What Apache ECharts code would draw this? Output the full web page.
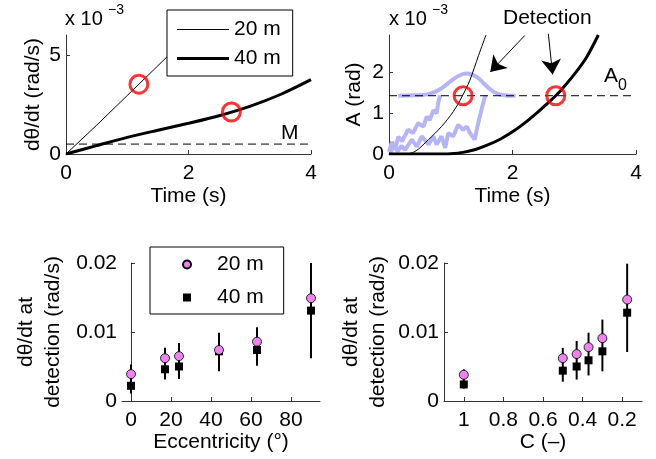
<!DOCTYPE html>
<html>
<head>
<meta charset="utf-8">
<script src="https://cdn.jsdelivr.net/npm/echarts@6/dist/echarts.min.js"></script>
<style>
html,body{margin:0;padding:0;background:#fff;}
#chart{width:656px;height:459px;}
</style>
</head>
<body>
<div id="chart"></div>
<script>
// ---- top left: dθ/dt vs time (x 10^-3 rad/s) ----
var rateTime20 = [0, 0.5, 1, 1.5, 2, 2.03];
var rate20 = [0, 1.45, 2.95, 4.45, 5.95, 6.0];
var rateTime40 = [0, 0.5, 1, 1.5, 2, 2.5, 3, 3.5, 4];
var rate40 = [0, 0.42, 0.84, 1.2, 1.55, 1.93, 2.4, 3.0, 3.75];
var rateM = 0.5;
var rateDetT = [1.19, 2.7];
var rateDetV = [3.52, 2.12];

// ---- top right: amplitude vs time (x 10^-3 rad) ----
var ampTime20 = [0, 0.25, 0.42, 0.64, 0.85, 1.04, 1.18, 1.31, 1.45, 1.57];
var amp20 = [0, 0, 0.06, 0.35, 0.67, 1.03, 1.39, 1.8, 2.4, 2.9];
var ampTime40 = [0, 0.9, 1.0, 1.2, 1.4, 1.6, 1.8, 2.0, 2.2, 2.4, 2.6, 2.7, 2.8, 3.0, 3.2, 3.39];
var amp40 = [0, 0, 0.005, 0.04, 0.11, 0.22, 0.36, 0.54, 0.76, 1.01, 1.28, 1.42, 1.58, 1.94, 2.36, 2.9];
var ampA0 = 1.42;
var ampDetT = [1.2, 2.7];
// light blue: detection probability bump and two noisy traces
var bumpTime = [0.15, 0.4, 0.64, 0.85, 1.02, 1.15, 1.26, 1.42, 1.56, 1.69, 1.83, 2.05];
var bumpAmp = [1.42, 1.43, 1.46, 1.6, 1.8, 1.92, 1.96, 1.88, 1.68, 1.52, 1.44, 1.42];
var noiseTimeA = [0, 0.05, 0.1, 0.15, 0.21, 0.31, 0.39, 0.47, 0.56, 0.61, 0.66, 0.72, 0.77, 0.8, 0.83];
var noiseAmpA = [0.05, 0.3, 0.12, 0.42, 0.31, 0.59, 0.51, 0.75, 0.67, 0.91, 0.83, 1.07, 0.99, 1.27, 1.43];
var noiseTimeB = [0.02, 0.08, 0.14, 0.2, 0.26, 0.37, 0.45, 0.53, 0.64, 0.72, 0.77, 0.85, 0.91, 0.96, 1.04, 1.12, 1.2, 1.26, 1.31, 1.39, 1.42, 1.47, 1.51, 1.56];
var noiseAmpB = [0.02, 0.22, 0.06, 0.2, 0.1, 0.35, 0.18, 0.43, 0.23, 0.43, 0.23, 0.43, 0.15, 0.51, 0.43, 0.71, 0.59, 0.67, 0.51, 0.35, 0.59, 0.91, 1.15, 1.43];
var arrowFrom = [[2.2, 2.89], [2.58, 2.93]];
var arrowTo = [[1.64, 2.0], [2.65, 1.94]];

// ---- bottom left: rate at detection vs eccentricity ----
var eccentricity = [0, 17, 24, 44, 63, 90];
var eccDet20 = [0.0039, 0.0062, 0.0065, 0.0074, 0.0086, 0.0149];
var eccDet40 = [0.0022, 0.0046, 0.0050, 0.0072, 0.0074, 0.0131];
var eccErrLow = [0.0011, 0.0031, 0.0032, 0.0043, 0.0051, 0.0062];
var eccErrHigh = [0.0053, 0.0077, 0.0084, 0.0099, 0.0107, 0.0200];

// ---- bottom right: rate at detection vs contrast C ----
var contrast = [1, 0.5, 0.43, 0.37, 0.3, 0.175];
var cDet20 = [0.0038, 0.0062, 0.0068, 0.0078, 0.0091, 0.0147];
var cDet40 = [0.0024, 0.0044, 0.0050, 0.0059, 0.0072, 0.0128];
var cErrLow = [0.0018, 0.0028, 0.0031, 0.0037, 0.0043, 0.0071];
var cErrHigh = [0.0046, 0.0077, 0.0087, 0.0099, 0.0118, 0.0199];

var FONT = '"Liberation Sans", Arial, Helvetica, sans-serif';
var FS = 21;
var AXIS_COLOR = '#333';

function pairs(xs, ys) {
    var out = [];
    for (var i = 0; i < xs.length; i++) out.push([xs[i], ys[i]]);
    return out;
}

function xAxisCfg(idx, name, min, max, ticks, inverse) {
    return {
        type: 'value', gridIndex: idx, min: min, max: max, inverse: !!inverse,
        name: name, nameLocation: 'middle', nameGap: idx < 2 ? 32 : 27,
        nameTextStyle: {fontSize: FS, color: '#000', fontFamily: FONT},
        axisLine: {lineStyle: {color: AXIS_COLOR, width: 1}},
        axisTick: {inside: true, length: 4, customValues: ticks, lineStyle: {color: AXIS_COLOR}},
        axisLabel: {customValues: ticks, fontSize: FS, color: '#000', fontFamily: FONT, margin: 9},
        splitLine: {show: false}
    };
}

function yAxisCfg(idx, name, min, max, ticks, gap, lineHeight) {
    return {
        type: 'value', gridIndex: idx, min: min, max: max,
        name: name, nameLocation: 'middle', nameGap: gap,
        nameTextStyle: {fontSize: FS, color: '#000', fontFamily: FONT, lineHeight: lineHeight || FS},
        axisLine: {show: true, lineStyle: {color: AXIS_COLOR, width: 1}},
        axisTick: {show: true, inside: true, length: 4, customValues: ticks, lineStyle: {color: AXIS_COLOR}},
        axisLabel: {customValues: ticks, fontSize: FS, color: '#000', fontFamily: FONT, margin: 5},
        splitLine: {show: false}
    };
}

function curve(name, idx, xs, ys, width, color, smooth) {
    return {
        name: name, type: 'line', xAxisIndex: idx, yAxisIndex: idx,
        data: pairs(xs, ys), symbol: 'none', smooth: smooth || false,
        lineStyle: {color: color, width: width}, itemStyle: {color: color},
        silent: true, z: 3
    };
}

function dashed(idx, y) {
    return {
        type: 'line', xAxisIndex: idx, yAxisIndex: idx, data: [[0, y], [4, y]],
        symbol: 'none', silent: true, z: 3,
        lineStyle: {color: '#000', width: 1, type: [8, 5]}
    };
}

function detectRings(idx, xs, ys) {
    return {
        type: 'scatter', xAxisIndex: idx, yAxisIndex: idx, data: pairs(xs, ys),
        symbol: 'circle', symbolSize: 18, silent: true, z: 6,
        itemStyle: {color: 'rgba(0,0,0,0)', borderColor: '#ff0000', borderWidth: 3}
    };
}

function errorBars(idx, xs, lo, hi) {
    var data = [];
    for (var i = 0; i < xs.length; i++) data.push([xs[i], lo[i], hi[i]]);
    return {
        type: 'custom', xAxisIndex: idx, yAxisIndex: idx, data: data, silent: true, z: 2,
        renderItem: function (params, api) {
            var a = api.coord([api.value(0), api.value(1)]);
            var b = api.coord([api.value(0), api.value(2)]);
            return {type: 'line', shape: {x1: a[0], y1: a[1], x2: b[0], y2: b[1]},
                    style: {stroke: '#000', lineWidth: 2}};
        }
    };
}

function points(name, idx, xs, ys, symbol, size, color) {
    return {
        name: name, type: 'scatter', xAxisIndex: idx, yAxisIndex: idx, data: pairs(xs, ys),
        symbol: symbol, symbolSize: size, silent: true, z: symbol === 'circle' ? 5 : 4,
        itemStyle: {color: color, borderColor: '#000', borderWidth: symbol === 'circle' ? 0.8 : 0, opacity: 1}
    };
}

var myChart = echarts.init(document.getElementById('chart'));

var option = {
    animation: false,
    backgroundColor: '#fff',
    textStyle: {fontFamily: FONT},
    grid: [
        {left: 66, top: 35, width: 245, height: 119},
        {left: 389, top: 35, width: 247, height: 119},
        {left: 122, top: 263, width: 198, height: 138},
        {left: 444, top: 263, width: 198, height: 138}
    ],
    xAxis: [
        xAxisCfg(0, 'Time (s)', 0, 4, [0, 2, 4]),
        xAxisCfg(1, 'Time (s)', 0, 4, [0, 2, 4]),
        xAxisCfg(2, 'Eccentricity (°)', -4.5, 94.5, [0, 20, 40, 60, 80]),
        xAxisCfg(3, 'C (\u2013)', 0.1, 1.1, [0.2, 0.4, 0.6, 0.8, 1], true)
    ],
    yAxis: [
        yAxisCfg(0, 'd\u03b8/dt (rad/s)', 0, 6, [0, 5], 22),
        yAxisCfg(1, 'A (rad)', 0, 2.9, [0, 1, 2], 24),
        yAxisCfg(2, 'd\u03b8/dt at\ndetection (rad/s)', 0, 0.02, [0, 0.01, 0.02], 55, 27),
        yAxisCfg(3, 'd\u03b8/dt at\ndetection (rad/s)', 0, 0.02, [0, 0.01, 0.02], 52, 27)
    ],
    legend: [
        {
            data: [
                {name: '20 m', icon: 'path://M0 0H52V1H0Z'},
                {name: '40 m', icon: 'path://M0 0H52V3H0Z'}
            ],
            orient: 'vertical', left: 167, top: 10,
            itemWidth: 52, itemHeight: 14, itemGap: 8, padding: [9, 12, 7, 10],
            borderColor: '#000', borderWidth: 1, backgroundColor: '#fff', borderRadius: 0,
            selectedMode: false, textStyle: {fontSize: FS, color: '#000', fontFamily: FONT}
        },
        {
            data: [
                {name: '20 m '},
                {name: '40 m ', icon: 'path://M0 0H1V1H0Z'}
            ],
            orient: 'vertical', left: 150, top: 247,
            itemWidth: 50, itemHeight: 8, itemGap: 12, padding: [7, 20, 6, 32],
            borderColor: '#000', borderWidth: 1, backgroundColor: '#fff', borderRadius: 0,
            selectedMode: false, textStyle: {fontSize: FS, color: '#000', fontFamily: FONT},
            formatter: function (name) { return name.trim(); }
        }
    ],
    series: [
        // top left
        curve('20 m', 0, rateTime20, rate20, 1, '#000'),
        curve('40 m', 0, rateTime40, rate40, 3, '#000', 0.3),
        dashed(0, rateM),
        detectRings(0, rateDetT, rateDetV),
        // top right
        curve('bump', 1, bumpTime, bumpAmp, 4, '#b4b4f6', 0.4),
        curve('traceA', 1, noiseTimeA, noiseAmpA, 4, '#b4b4f6'),
        curve('traceB', 1, noiseTimeB, noiseAmpB, 4, '#b4b4f6'),
        dashed(1, ampA0),
        curve('amp20', 1, ampTime20, amp20, 1, '#000', 0.3),
        curve('amp40', 1, ampTime40, amp40, 3, '#000', 0.3),
        detectRings(1, ampDetT, [ampA0, ampA0]),
        {
            type: 'lines', coordinateSystem: 'cartesian2d', xAxisIndex: 1, yAxisIndex: 1,
            clip: false, silent: true, z: 7,
            data: [{coords: [arrowFrom[0], arrowTo[0]]}, {coords: [arrowFrom[1], arrowTo[1]]}],
            symbol: ['none', 'arrow'], symbolSize: [0, 15],
            lineStyle: {color: '#000', width: 1, opacity: 1}
        },
        // bottom left
        errorBars(2, eccentricity, eccErrLow, eccErrHigh),
        points('40 m ', 2, eccentricity, eccDet40, 'rect', 8, '#000'),
        points('20 m ', 2, eccentricity, eccDet20, 'circle', 9, '#ee82ee'),
        // bottom right
        errorBars(3, contrast, cErrLow, cErrHigh),
        points('40 m ', 3, contrast, cDet40, 'rect', 8, '#000'),
        points('20 m ', 3, contrast, cDet20, 'circle', 9, '#ee82ee')
    ],
    graphic: [
        {type: 'text', left: 65, top: 9, style: {text: 'x 10', fontSize: 20, fontFamily: FONT, fill: '#000'}},
        {type: 'text', left: 108, top: 3, style: {text: '\u22123', fontSize: 14, fontFamily: FONT, fill: '#000'}},
        {type: 'text', left: 389, top: 9, style: {text: 'x 10', fontSize: 20, fontFamily: FONT, fill: '#000'}},
        {type: 'text', left: 432, top: 3, style: {text: '\u22123', fontSize: 14, fontFamily: FONT, fill: '#000'}},
        {type: 'text', left: 281, top: 123, style: {text: 'M', fontSize: FS, fontFamily: FONT, fill: '#000'}},
        {type: 'text', left: 503, top: 8, style: {text: 'Detection', fontSize: FS, fontFamily: FONT, fill: '#000'}},
        {type: 'text', left: 604, top: 66, style: {text: 'A', fontSize: FS, fontFamily: FONT, fill: '#000'}},
        {type: 'text', left: 618, top: 78, style: {text: '0', fontSize: 16, fontFamily: FONT, fill: '#000'}}
    ]
};

myChart.setOption(option);
</script>
</body>
</html>
